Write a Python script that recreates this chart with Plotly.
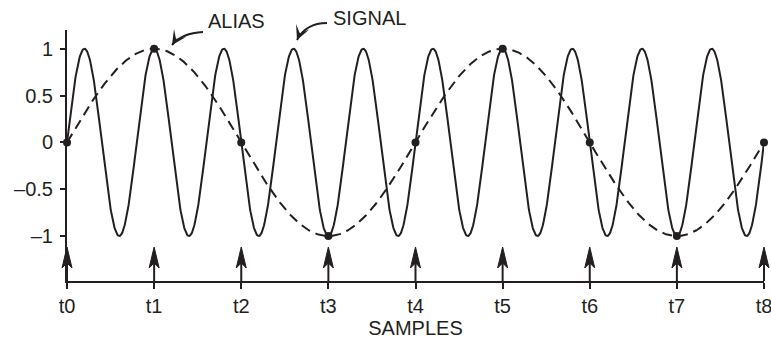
import numpy as np
import plotly.graph_objects as go

# ---- data ----
sample_times = [0, 1, 2, 3, 4, 5, 6, 7, 8]
sample_labels = ["t0", "t1", "t2", "t3", "t4", "t5", "t6", "t7", "t8"]
alias_sample_values = [0, 1, 0, -1, 0, 1, 0, -1, 0]
signal_freq = 1.25   # cycles per sample interval
alias_freq = 0.25    # cycles per sample interval
y_tick_vals = [-1, -0.5, 0, 0.5, 1]
y_tick_text = ["\u20131", "\u20130.5", "0", "0.5", "1"]
y_min, y_max = -1.48, 1.2
x_min, x_max = 0, 8

INK = "#231f20"
FONT = "Liberation Sans, Arial, Helvetica, sans-serif"
FS = 20

# plot area in pixels
L, R, T, B = 67, 764, 30, 281

def px(x):
    return (x - L) / (R - L)
def py(y):
    return (B - y) / (B - T)
def tx(t):  # data x -> paper
    return (t - x_min) / (x_max - x_min)

t_dense = np.linspace(0, 8, 1601)
signal = np.sin(2 * np.pi * signal_freq * t_dense)
alias = np.sin(2 * np.pi * alias_freq * t_dense)

fig = go.Figure()
fig.add_trace(go.Scatter(x=t_dense, y=signal, mode="lines",
                         line=dict(color=INK, width=2), hoverinfo="skip"))
fig.add_trace(go.Scatter(x=t_dense, y=alias, mode="lines",
                         line=dict(color=INK, width=2, dash="10px,6px"), hoverinfo="skip"))
fig.add_trace(go.Scatter(x=sample_times, y=alias_sample_values, mode="markers",
                         marker=dict(color=INK, size=8), cliponaxis=False, hoverinfo="skip"))

# sample arrows (shaft + barbed head), paper coords so the edge ones are not clipped
tip, base, notch = py(247), py(268), py(263)
hw = 5 / (R - L)
for t in sample_times:
    x = tx(t)
    fig.add_shape(type="line", xref="paper", yref="paper", x0=x, x1=x, y0=0, y1=notch,
                  line=dict(color=INK, width=2))
    fig.add_shape(type="path", xref="paper", yref="paper",
                  path=f"M {x},{tip} L {x + hw},{base} L {x},{notch} L {x - hw},{base} Z",
                  line=dict(color=INK, width=1), fillcolor=INK)

def curved_arrow(p0, c, p1, tail):
    fig.add_shape(type="path", xref="paper", yref="paper",
                  path=f"M {px(p0[0])},{py(p0[1])} Q {px(c[0])},{py(c[1])} {px(p1[0])},{py(p1[1])}",
                  line=dict(color=INK, width=2))
    fig.add_annotation(x=px(p1[0]), y=py(p1[1]), xref="paper", yref="paper",
                       ax=tail[0], ay=tail[1], text="", showarrow=True,
                       arrowhead=3, arrowsize=1.2, arrowwidth=2, arrowcolor=INK)

curved_arrow((203, 32), (182, 33), (172, 45), (4, -6))
curved_arrow((327, 23), (306, 23), (297, 40), (3, -7))

fig.add_annotation(x=px(236), y=py(21), xref="paper", yref="paper", text="ALIAS",
                   xanchor="center", yanchor="middle",
                   showarrow=False, font=dict(size=FS, color=INK, family=FONT))
fig.add_annotation(x=px(369), y=py(18), xref="paper", yref="paper", text="SIGNAL",
                   xanchor="center", yanchor="middle",
                   showarrow=False, font=dict(size=FS, color=INK, family=FONT))

fig.update_layout(
    width=771, height=341,
    margin=dict(l=L, r=771 - R, t=T, b=341 - B, autoexpand=False),
    paper_bgcolor="white", plot_bgcolor="white",
    showlegend=False,
    font=dict(family=FONT, size=FS, color=INK),
    xaxis=dict(range=[x_min, x_max], showgrid=False, zeroline=False, automargin=False,
               showline=True, linecolor=INK, linewidth=2,
               ticks="outside", ticklen=6, tickwidth=2, tickcolor=INK,
               tickvals=sample_times, ticktext=sample_labels,
               ticklabeloverflow="allow",
               tickfont=dict(size=FS, family=FONT, color=INK),
               title=dict(text="SAMPLES", standoff=3, font=dict(size=FS, family=FONT, color=INK))),
    yaxis=dict(range=[y_min, y_max], showgrid=False, zeroline=False, automargin=False,
               showline=True, linecolor=INK, linewidth=2,
               ticks="outside", ticklen=5, tickwidth=2, tickcolor=INK,
               tickvals=y_tick_vals, ticktext=y_tick_text, ticklabelstandoff=3,
               tickfont=dict(size=FS, family=FONT, color=INK)),
)

fig.write_html("out.html", config={"displayModeBar": False},
               post_script="document.body.style.margin='0';document.body.style.overflow='hidden';")
